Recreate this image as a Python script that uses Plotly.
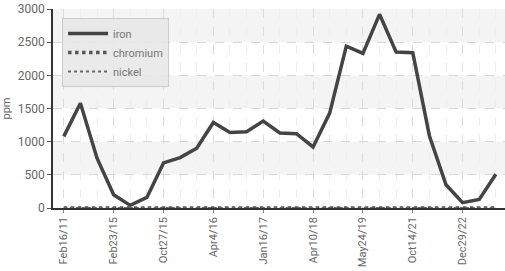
import plotly.graph_objects as go

idx = list(range(27))
iron = [1080, 1580, 750, 200, 40, 160, 680, 760, 900, 1290, 1140, 1150, 1310, 1130,
        1120, 920, 1430, 2440, 2330, 2920, 2350, 2340, 1090, 350, 80, 130, 510]
chromium = [0] * 27
nickel = [0] * 27
tick_pos = [0, 3, 6, 9, 12, 15, 18, 21, 24]
tick_labels = ["Feb16/11", "Feb23/15", "Oct27/15", "Apr4/16", "Jan16/17",
               "Apr10/18", "May24/19", "Oct14/21", "Dec29/22"]
y_ticks = [0, 500, 1000, 1500, 2000, 2500, 3000]

FONT = "Roboto, sans-serif"

fig = go.Figure()
fig.add_trace(go.Scatter(x=idx, y=iron, name="iron", mode="lines",
                         line=dict(color="#444444", width=3.5)))
fig.add_trace(go.Scatter(x=idx, y=chromium, name="chromium", mode="lines",
                         line=dict(color="#555555", width=3.5, dash="dot")))
fig.add_trace(go.Scatter(x=idx, y=nickel, name="nickel", mode="lines",
                         line=dict(color="#666666", width=2, dash="dot")))

shapes = []
for lo in [500, 1500, 2500]:
    shapes.append(dict(type="rect", xref="paper", yref="y", x0=0, x1=1, y0=lo, y1=lo + 500,
                       fillcolor="#f4f4f4", line=dict(width=0), layer="below"))
fig.update_layout(shapes=shapes)

fig.update_layout(
    width=505, height=271,
    margin=dict(l=53, r=0, t=9, b=63),
    paper_bgcolor="white", plot_bgcolor="white",
    font=dict(family=FONT, size=11, color="#666666"),
    showlegend=True,
    legend=dict(x=0.02, y=0.955, xanchor="left", yanchor="top",
                bgcolor="rgba(232,232,232,0.9)", bordercolor="#cccccc", borderwidth=1,
                font=dict(family=FONT, size=11, color="#777777"),
                tracegroupgap=0, itemwidth=40),
    xaxis=dict(range=[-0.65, 26.55], tickmode="array", tickvals=tick_pos, ticktext=tick_labels,
               tickangle=-90, showgrid=True, gridcolor="#dddddd", griddash="dash", gridwidth=1,
               minor=dict(dtick=1, tick0=0, showgrid=True, gridcolor="#eeeeee", griddash="dash"),
               showline=True, linecolor="#333333", linewidth=1.5,
               ticks="outside", ticklen=3, tickcolor="#888888",
               zeroline=False, tickfont=dict(size=11, color="#666666")),
    yaxis=dict(range=[0, 3000], tickvals=y_ticks, showgrid=True, gridcolor="#d8d8d8",
               griddash="dash", showline=True, linecolor="#333333", linewidth=1.5,
               ticks="outside", ticklen=4, tickcolor="#555555", zeroline=False,
               title=dict(text="ppm", font=dict(size=11, color="#666666"), standoff=6),
               tickfont=dict(size=12, color="#666666")),
)

fig.write_html("out.html", config={"displayModeBar": False},
               post_script="document.body.style.margin='0';document.body.style.padding='0';")
